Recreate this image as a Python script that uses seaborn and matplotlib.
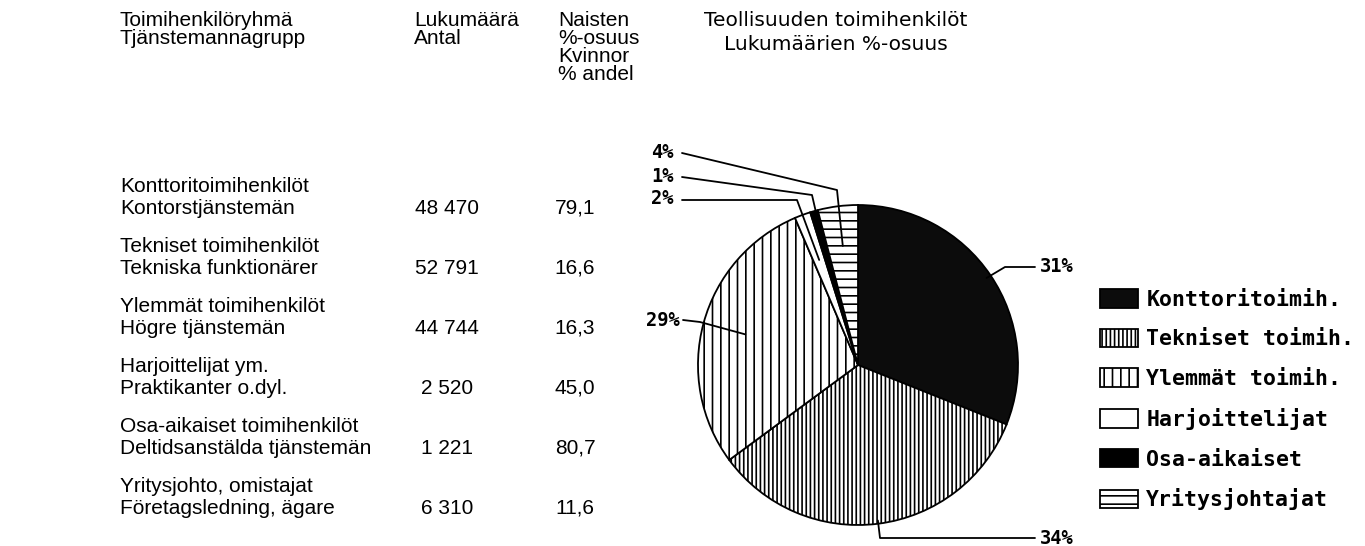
# packages
import numpy as np
import pandas as pd
import seaborn as sns
import matplotlib.pyplot as plt

# data
groups_fi = ["Konttoritoimihenkilöt", "Tekniset toimihenkilöt", "Ylemmät toimihenkilöt",
             "Harjoittelijat ym.", "Osa-aikaiset toimihenkilöt", "Yritysjohto, omistajat"]
groups_sv = ["Kontorstjänstemän", "Tekniska funktionärer", "Högre tjänstemän",
             "Praktikanter o.dyl.", "Deltidsanstälda tjänstemän", "Företagsledning, ägare"]
counts = [48470, 52791, 44744, 2520, 1221, 6310]
women_pct = [79.1, 16.6, 16.3, 45.0, 80.7, 11.6]
legend_labels = ["Konttoritoimih.", "Tekniset toimih.", "Ylemmät toimih.",
                 "Harjoittelijat", "Osa-aikaiset", "Yritysjohtajat"]

df = pd.DataFrame({"fi": groups_fi, "sv": groups_sv, "n": counts, "women": women_pct})
df["share"] = df["n"] / df["n"].sum() * 100

sns.set_theme(style="white")
plt.rcParams['font.family'] = ['Liberation Sans', 'DejaVu Sans']
plt.rcParams['text.color'] = 'black'
plt.rcParams['hatch.linewidth'] = 1.2

W, H = 1365, 546
fig = plt.figure(figsize=(W / 100, H / 100), dpi=100)

# overlay axes in pixel units for the table text
ax = fig.add_axes([0, 0, 1, 1])
ax.set_xlim(0, W)
ax.set_ylim(H, 0)
ax.axis('off')

fs = 15
ax.text(120, 21, "Toimihenkilöryhmä", fontsize=fs, va='center')
ax.text(120, 39, "Tjänstemannagrupp", fontsize=fs, va='center')
ax.text(414, 21, "Lukumäärä", fontsize=fs, va='center')
ax.text(414, 39, "Antal", fontsize=fs, va='center')
for i, s in enumerate(["Naisten", "%-osuus", "Kvinnor", "% andel"]):
    ax.text(558, 21 + 18 * i, s, fontsize=fs, va='center')

for i, row in df.iterrows():
    y = 186 + 60 * i
    ax.text(120, y, row["fi"], fontsize=fs, va='center')
    ax.text(120, y + 22, row["sv"], fontsize=fs, va='center')
    ax.text(447, y + 22, f"{row['n']:,}".replace(",", " "), fontsize=fs, va='center', ha='center')
    ax.text(575, y + 22, f"{row['women']:.1f}".replace(".", ","), fontsize=fs, va='center', ha='center')

# title of the pie
ax.text(836, 20, "Teollisuuden toimihenkilöt", fontsize=14.5, va='center', ha='center',
        family='DejaVu Sans')
ax.text(836, 44, "Lukumäärien %-osuus", fontsize=14.5, va='center', ha='center',
        family='DejaVu Sans')

# pie
cx, cy, r = 858, 365, 160
pax = fig.add_axes([(cx - r) / W, (H - cy - r) / H, 2 * r / W, 2 * r / H])
wedges, _ = pax.pie(df["n"], startangle=90, counterclock=False,
                    wedgeprops=dict(edgecolor='black', linewidth=1.3))
faces = ['#0c0c0c', 'white', 'white', 'white', 'black', 'white']
hatches = [None, '||||', '||', None, None, '--']
for w, fc, h in zip(wedges, faces, hatches):
    w.set_facecolor(fc)
    if h:
        w.set_hatch(h)
pax.set_xlim(-1, 1)
pax.set_ylim(-1, 1)
pax.set_aspect('equal')


def p(px, py):
    return (px - cx) / r, (cy - py) / r


# leader lines: anchor radius on wedge, then pixel points out to the label
leaders = [
    (0.97, [(1005, 267), (1035, 267)], (1040, 267), 'left'),
    (0.98, [(880, 538), (1035, 538)], (1040, 539), 'left'),
    (0.73, [(700, 322), (683, 320)], (680, 321), 'right'),
    (0.70, [(797, 200), (682, 200)], (674, 198), 'right'),
    (0.80, [(812, 195), (682, 177)], (674, 176), 'right'),
    (0.75, [(837, 190), (682, 153)], (674, 152), 'right'),
]
for w, share, (ra, pts, tpos, ha) in zip(wedges, df["share"], leaders):
    mid = np.deg2rad((w.theta1 + w.theta2) / 2)
    xs = [ra * np.cos(mid)] + [p(*q)[0] for q in pts]
    ys = [ra * np.sin(mid)] + [p(*q)[1] for q in pts]
    pax.plot(xs, ys, color='black', lw=1.3, clip_on=False)
    tx, ty = p(*tpos)
    pax.text(tx, ty, f"{share:.0f}%", fontsize=13.5, family='DejaVu Sans Mono',
             weight='bold', ha=ha, va='center', clip_on=False)

leg = pax.legend(wedges, legend_labels, loc='upper left',
                 bbox_to_anchor=(1100 / W, 1 - 289 / H), bbox_transform=fig.transFigure,
                 frameon=False, borderpad=0, borderaxespad=0,
                 handlelength=1.75, handleheight=0.95, handletextpad=0.4, labelspacing=0.88,
                 prop=dict(family='DejaVu Sans Mono', weight='bold', size=15.5))

fig.savefig("out.png", dpi=100)
